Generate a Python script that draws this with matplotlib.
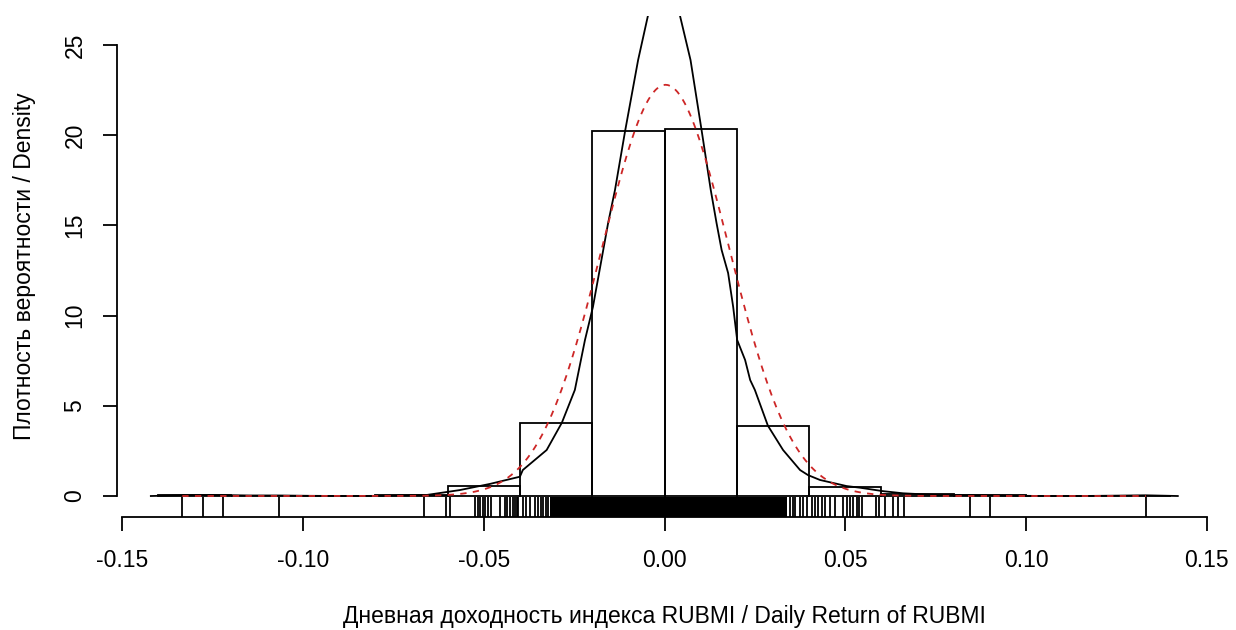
import numpy as np
import matplotlib
matplotlib.use('Agg')
import matplotlib.pyplot as plt

plt.rcParams['font.family'] = ['Liberation Sans', 'DejaVu Sans']

# histogram of daily returns, density scale, bin width 0.02
bin_left = [-0.14, -0.12, -0.10, -0.08, -0.06, -0.04, -0.02,
            0.00, 0.02, 0.04, 0.06, 0.08, 0.10, 0.12]
bin_density = [0.06, 0.02, 0.0, 0.06, 0.55, 4.06, 20.23,
               20.33, 3.90, 0.52, 0.12, 0.04, 0.0, 0.02]
bin_width = 0.02

# kernel density estimate (peak goes off the top)
kde_x = [-0.1421, -0.140, -0.133, -0.125, -0.115, -0.107, -0.098, -0.088,
         -0.078, -0.070, -0.0657, -0.0566, -0.0483, -0.0400, -0.0392,
         -0.0326, -0.0284, -0.0248, -0.0220, -0.0198, -0.0181, -0.0156,
         -0.0137, -0.0109, -0.0073, -0.0046, -0.002, 0.0005, 0.003,
         0.0043, 0.0072, 0.0103, 0.0128, 0.0144, 0.0158, 0.0176, 0.0190,
         0.0201, 0.0223, 0.0237, 0.0250, 0.0286, 0.0328, 0.0375, 0.0397,
         0.0430, 0.0504, 0.0541, 0.0604, 0.066, 0.075, 0.085, 0.095,
         0.105, 0.115, 0.125, 0.133, 0.142]
kde_y = [0.0, 0.01, 0.05, 0.06, 0.03, 0.03, 0.01, 0.0,
         0.01, 0.05, 0.06, 0.33, 0.67, 1.07, 1.44,
         2.55, 4.06, 5.88, 8.65, 10.48, 12.36, 15.13,
         16.96, 20.23, 24.17, 26.61, 29.0, 30.0, 29.2,
         26.61, 24.17, 20.23, 16.96, 15.13, 13.64, 12.36, 10.48,
         8.65, 7.54, 6.43, 5.88, 3.90, 2.55, 1.44, 1.16,
         0.89, 0.55, 0.46, 0.27, 0.15, 0.06, 0.05, 0.02,
         0.0, 0.0, 0.02, 0.04, 0.0]

# fitted normal
norm_mean = 0.0003
norm_sd = 0.0175
norm_from = -0.1334
norm_to = 0.1332

# rug: single ticks plus the solid band in the middle
rug_x = [-0.1334, -0.1278, -0.1221, -0.1067, -0.0666, -0.0604, -0.0594,
         -0.0523, -0.0517, -0.0510, -0.0503, -0.0497, -0.0488, -0.0481,
         -0.0455, -0.0441, -0.0435, -0.0427, -0.0420, -0.0414, -0.0409,
         -0.0405, -0.0391, -0.0383, -0.0372, -0.0358, -0.0349, -0.0342,
         -0.0335, -0.0328, -0.0322,
         0.0347, 0.0355, 0.0361, 0.0375, 0.0384, 0.0393, 0.0407, 0.0416,
         0.0426, 0.0435, 0.0444, 0.0458, 0.0472, 0.0495, 0.0504, 0.0513,
         0.0522, 0.0532, 0.0539, 0.0547, 0.0584, 0.0594, 0.0610, 0.0631,
         0.0646, 0.0662, 0.0844, 0.0901, 0.1332]
rug_band = (-0.0318, 0.0338)

x_ticks = [-0.15, -0.10, -0.05, 0.00, 0.05, 0.10, 0.15]
y_ticks = [0, 5, 10, 15, 20, 25]
x_label = 'Дневная доходность индекса RUBMI / Daily Return of RUBMI'
y_label = 'Плотность вероятности / Density'


def draw():
    W, H = 1236, 630
    fig = plt.figure(figsize=(W / 100, H / 100), dpi=100)
    # plot region in pixels: left 117, right 1212, top 16, bottom 516.7
    ax = fig.add_axes([117 / W, (H - 516.7) / H, (1212 - 117) / W, (516.7 - 16) / H])
    ax.set_xlim(-0.15146, 0.15146)
    ax.set_ylim(-1.147, 26.61)

    lw = 1.3
    fs = 16.5
    ax.bar(bin_left, bin_density, width=bin_width, align='edge',
           fill=False, edgecolor='black', linewidth=lw)
    ax.plot(kde_x, kde_y, color='black', linewidth=lw)

    xs = np.linspace(norm_from, norm_to, 400)
    ys = np.exp(-0.5 * ((xs - norm_mean) / norm_sd) ** 2) / (norm_sd * np.sqrt(2 * np.pi))
    ax.plot(xs, ys, color='#CD2626', linewidth=lw, linestyle=(0, (3.5, 3.5)))

    rug_h = 20 / 500.7
    tr = ax.get_xaxis_transform()
    ax.vlines(rug_x, 0, rug_h, transform=tr, color='black', linewidth=lw)
    ax.axvspan(rug_band[0], rug_band[1], ymin=0, ymax=rug_h, color='black', linewidth=0)

    for s in ['top', 'right']:
        ax.spines[s].set_visible(False)
    ax.spines['left'].set_bounds(0, 25)
    ax.spines['bottom'].set_bounds(-0.15, 0.15)
    ax.spines['left'].set_linewidth(lw)
    ax.spines['bottom'].set_linewidth(lw)

    ax.set_xticks(x_ticks)
    ax.set_xticklabels(['%.2f' % v for v in x_ticks])
    ax.set_yticks(y_ticks)
    ax.set_yticklabels([str(v) for v in y_ticks], rotation=90, va='center')
    ax.tick_params(direction='out', length=10, width=lw, labelsize=fs, colors='black')
    ax.tick_params(axis='x', pad=13)
    ax.tick_params(axis='y', pad=12)

    fig.text(664.5 / W, 1 - 617 / H, x_label, ha='center', va='center', fontsize=fs)
    fig.text(25 / W, 1 - 266 / H, y_label, ha='center', va='center', rotation=90, fontsize=fs)

    fig.savefig('out.png', dpi=100)


def main():
    draw()

main()
